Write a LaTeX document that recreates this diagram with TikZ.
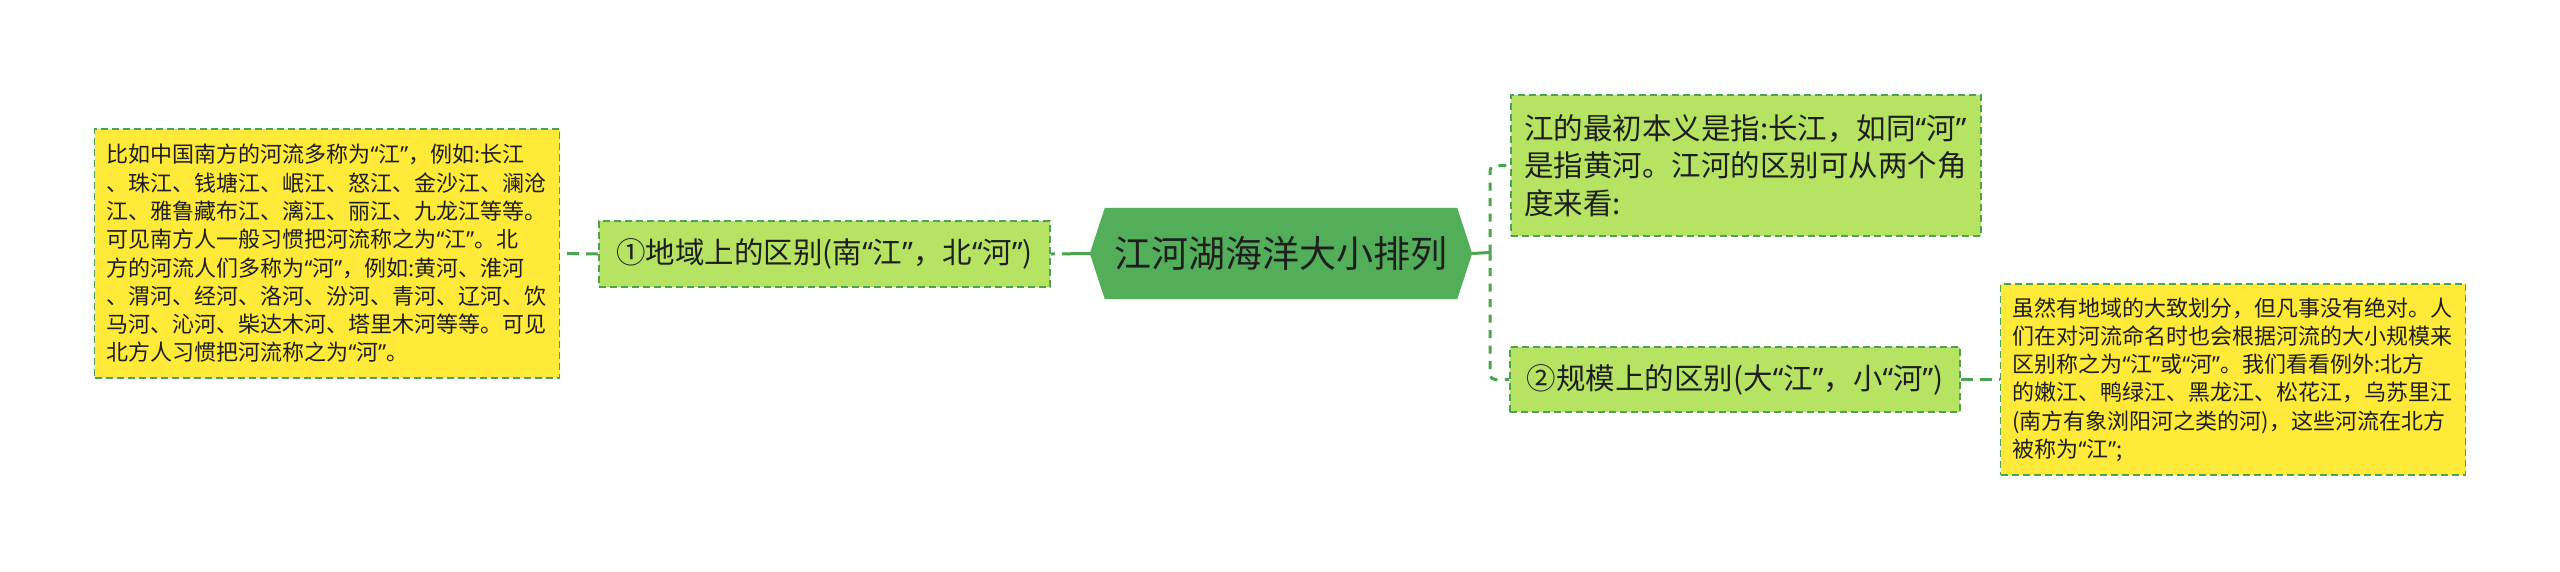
\documentclass[tikz,border=0pt]{standalone}
\usepackage{fontspec}
\setmainfont{Noto Sans CJK SC}
\newfontfamily\latinf{Noto Sans}
\newcommand{\qo}{{\latinf “}}
\newcommand{\qc}{{\latinf ”}}
\usetikzlibrary{backgrounds}
\definecolor{hexfill}{RGB}{83,174,90}
\definecolor{lgreen}{RGB}{182,228,98}
\definecolor{yfill}{RGB}{255,234,58}
\definecolor{bord}{RGB}{76,164,80}
\definecolor{txt}{RGB}{30,30,30}
\tikzset{
  titlenode/.style={minimum width=382pt, minimum height=91pt, inner sep=0pt, text=txt,
    font=\fontsize{37pt}{44pt}\selectfont},
  greenbox/.style={fill=lgreen, draw=bord, line width=1.8pt, dash pattern=on 7pt off 4pt,
    text=txt, inner sep=0pt, font=\fontsize{29.5pt}{37.7pt}\selectfont},
  yellowbox/.style={fill=yfill, draw=bord, line width=1.6pt, dash pattern=on 7pt off 4pt,
    text=txt, inner ysep=0pt, inner xsep=12pt, text width=441pt, align=left,
    font=\fontsize{22pt}{28.3pt}\selectfont},
  conn/.style={draw=bord, line width=3pt},
  dashconn/.style={conn, dash pattern=on 8pt off 7.5pt},
}
\begin{document}
\begin{tikzpicture}[x=1pt,y=-1pt]
\useasboundingbox (0,0) rectangle (2560,571);
% central title
\node[titlenode] (t) at (1281,253.5) {江河湖海洋大小排列};
\begin{scope}[on background layer]
\fill[white] (0,0) rectangle (2560,571);
\fill[hexfill] (t.west) -- ([xshift=15pt]t.north west) -- ([xshift=-15pt]t.north east)
  -- (t.east) -- ([xshift=-15pt]t.south east) -- ([xshift=15pt]t.south west) -- cycle;
\end{scope}
% level one
\node[greenbox, minimum width=451pt, minimum height=66pt] (n1) at (824.5,254)
  {①地域上的区别(南\qo 江\qc ，北\qo 河\qc )};
\node[greenbox, minimum width=470pt, minimum height=141pt, inner xsep=13pt,
  text width=444pt, align=left] (r1) at (1746,165.5)
  {江的最初本义是指:长江，如同\qo 河\qc\\是指黄河。江河的区别可从两个角\\度来看:};
\node[greenbox, minimum width=450pt, minimum height=65pt] (r2) at (1735,379.5)
  {②规模上的区别(大\qo 江\qc ，小\qo 河\qc )};
% details
\node[yellowbox, minimum width=465pt, minimum height=249pt] (ly) at (327,253.5)
  {比如中国南方的河流多称为\qo 江\qc ，例如:长江\\、珠江、钱塘江、岷江、怒江、金沙江、澜沧\\江、雅鲁藏布江、漓江、丽江、九龙江等等。\\可见南方人一般习惯把河流称之为\qo 江\qc 。北\\方的河流人们多称为\qo 河\qc ，例如:黄河、淮河\\、渭河、经河、洛河、汾河、青河、辽河、饮\\马河、沁河、柴达木河、塔里木河等等。可见\\北方人习惯把河流称之为\qo 河\qc 。};
\node[yellowbox, minimum width=465pt, minimum height=191pt] (ry) at (2233,379.5)
  {虽然有地域的大致划分，但凡事没有绝对。人\\们在对河流命名时也会根据河流的大小规模来\\区别称之为\qo 江\qc 或\qo 河\qc 。我们看看例外:北方\\的嫩江、鸭绿江、黑龙江、松花江，乌苏里江\\(南方有象浏阳河之类的河)，这些河流在北方\\被称为\qo 江\qc ;};
% connectors
\coordinate (j) at (1490,252.5);
\draw[conn, dash pattern=on 28pt off 7pt on 10pt off 5pt] (t.west) -- (n1.east);
\draw[dashconn, dash pattern=on 12pt off 7pt] (n1.west) -- (ly.east);
\draw[conn] (t.east) -- (j);
\draw[dashconn, rounded corners=5pt] (j) |- (r1.west);
\draw[dashconn, rounded corners=5pt] (j) |- (r2.west);
\draw[dashconn, dash pattern=on 12pt off 7pt] (r2.east) -- (ry.west);
\end{tikzpicture}
\end{document}
